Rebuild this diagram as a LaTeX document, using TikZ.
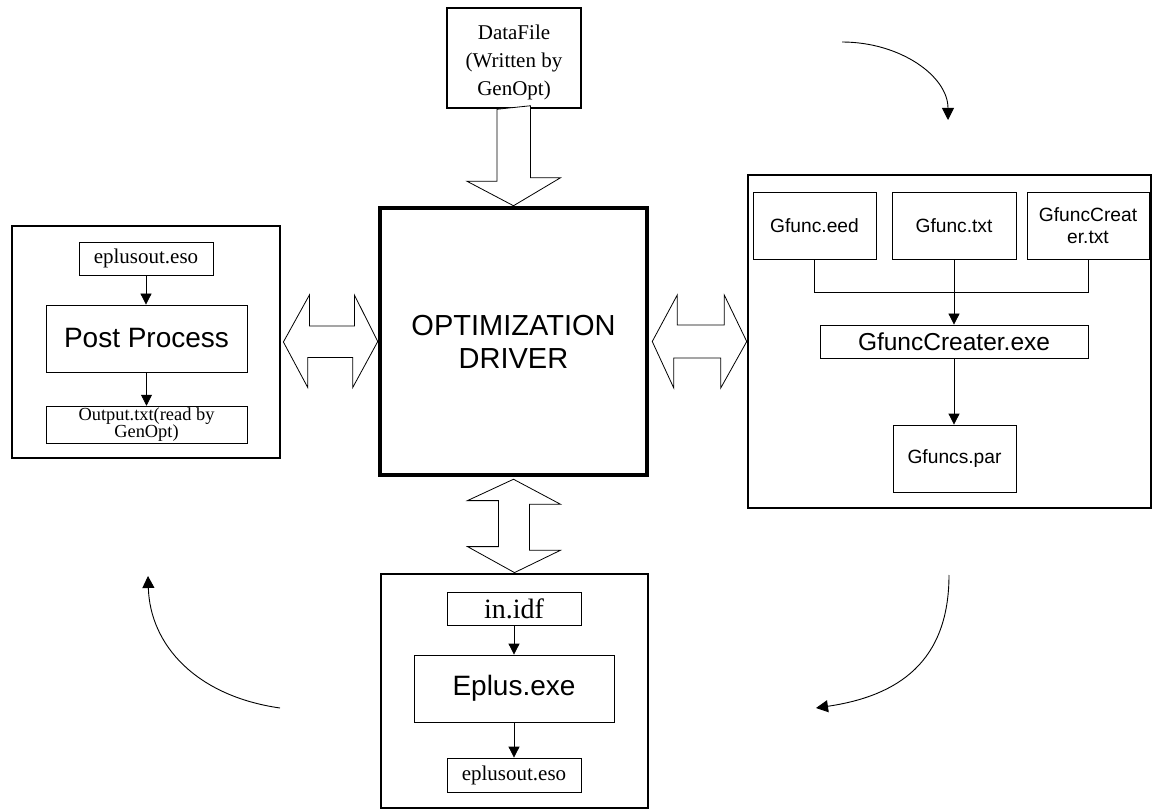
\documentclass[tikz,border=0pt]{standalone}
\usepackage{fontspec}
\setmainfont{Liberation Serif}
\setsansfont{Liberation Sans}
\usepackage{tikz}
\usetikzlibrary{arrows.meta, positioning, calc}

\begin{document}
\begin{tikzpicture}[
  x=1pt, y=-1pt,
  box/.style={rectangle, draw, inner sep=2pt, align=center},
  frame/.style={box, line width=2.8pt},
  mainbox/.style={box, line width=4.5pt, font=\sffamily\fontsize{29}{33}\selectfont},
  file/.style={box, line width=0.8pt, font=\fontsize{21}{25}\selectfont},
  proc/.style={box, line width=0.8pt, font=\sffamily\fontsize{28}{31}\selectfont},
  gbox/.style={box, line width=0.8pt, minimum width=123, minimum height=67, font=\sffamily\fontsize{19.2}{22}\selectfont},
  arr/.style={-{Triangle[length=11pt, width=11pt]}, line width=0.8pt},
  curvearr/.style={-{Triangle[length=12pt, width=12pt]}, line width=0.9pt},
  blk/.style={draw, line width=0.8pt, fill=white, line join=miter}
]
\useasboundingbox (0,0) rectangle (1157,810);

% centre and the four outer frames
\node[mainbox, minimum width=267, minimum height=267] (opt) at (513.5,341.5) {OPTIMIZATION\\DRIVER};
\node[frame, line width=2.5pt, minimum width=134, minimum height=100, font=\fontsize{21}{28}\selectfont] (dfile) at (514,58) {\rule{0pt}{24pt}DataFile\\(Written by\\GenOpt)};
\node[frame, minimum width=268, minimum height=232] (lframe) at (146,342) {};
\node[frame, line width=2.5pt, minimum width=403, minimum height=333] (rframe) at (949.5,341.5) {};
\node[frame, minimum width=267, minimum height=234] (bframe) at (514.5,691) {};

% left frame: post processing
\node[file, minimum width=134, minimum height=33] (lin) at (146,258.5) {eplusout.eso};
\node[proc, minimum width=201, minimum height=67] (post) at (146.5,338.5) {Post Process};
\node[file, minimum width=201, minimum height=34, font=\fontsize{18.4}{17}\selectfont] (lout) at (146.5,425) {Output.txt(read by\\GenOpt)};
\draw[arr] (lin) -- (lin |- post.north);
\draw[arr] (post) -- (post |- lout.north);

% bottom frame: simulation
\node[file, minimum width=134, minimum height=33, font=\fontsize{28}{32}\selectfont] (idf) at (514,608.5) {in.idf};
\node[proc, minimum width=200, minimum height=67] (eplus) at (514,688.5) {Eplus.exe};
\node[file, minimum width=134, minimum height=34] (bout) at (514,775) {eplusout.eso};
\draw[arr] (idf) -- (eplus);
\draw[arr] (eplus) -- (bout);

% right frame: input generation
\node[gbox] (geed) at (814.5,225.5) {Gfunc.eed};
\node[gbox, minimum width=124] (gtxt) at (954,225.5) {Gfunc.txt};
\node[gbox, minimum width=122] (gctxt) at (1088,225.5) {GfuncCreat\\er.txt};
\node[proc, minimum width=268, minimum height=33, font=\sffamily\fontsize{24.5}{27}\selectfont] (gcexe) at (954,341.5) {GfuncCreater.exe};
\node[gbox] (gpar) at (954.5,458.5) {Gfuncs.par};
\draw[line width=0.8pt] (geed.south) -- ++(0,33) -| (gctxt.south);
\draw[arr] (gtxt) -- (gtxt |- gcexe.north);
\draw[arr] (gcexe) -- (gcexe |- gpar.north);

% block arrows
\draw[blk] (dfile.south) ++(-17,0) -- ++(0,72) -- ++(-30,0) -- (opt.north) -- ++(47,-28) -- ++(-30,0) -- ++(0,-72) -- cycle;
\draw[blk] (lframe.east) ++(2,0) -- ++(26,-47) -- ++(0,31) -- ++(45,0) -- ++(0,-31) -- (opt.west) -- ++(-25,46) -- ++(0,-30) -- ++(-45,0) -- ++(0,30) -- cycle;
\draw[blk] (opt.east) ++(3,0) -- ++(25,-46.5) -- ++(0,30) -- ++(47,0) -- ++(0,-30) -- (rframe.west) -- ++(-26,46.5) -- ++(0,-30) -- ++(-47,0) -- ++(0,30) -- cycle;
\draw[blk] (opt.south) ++(0,2) -- ++(47,25) -- ++(-31,0) -- ++(0,46) -- ++(31,0) -- (bframe.north) -- ++(-47,-26) -- ++(31,0) -- ++(0,-46) -- ++(-31,0) -- cycle;

% cycle arrows round the driver
\coordinate (tra) at (842,42);
\coordinate (trb) at (948,120);
\coordinate (bra) at (949,575);
\coordinate (brb) at (816,708);
\coordinate (bla) at (280,708);
\coordinate (blb) at (148,576);
\draw[curvearr] (tra) .. controls (900,42) and (948,76) .. (trb);
\draw[curvearr] (bra) .. controls (949,662) and (898,696) .. (brb);
\draw[curvearr] (bla) .. controls (196,696) and (150,645) .. (blb);
\end{tikzpicture}
\end{document}
